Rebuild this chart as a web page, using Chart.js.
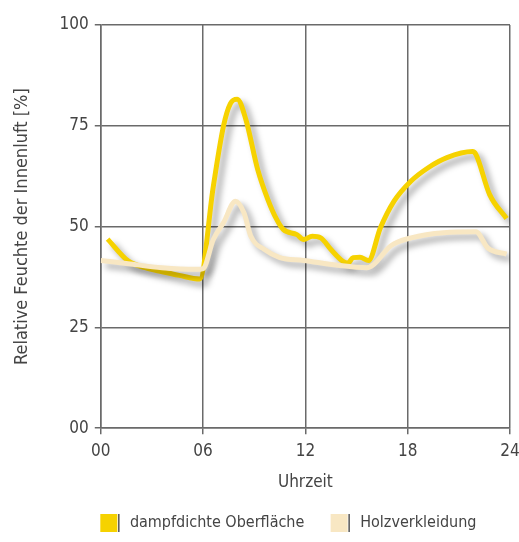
<!DOCTYPE html>
<html>
<head>
<meta charset="utf-8">
<script src="https://cdn.jsdelivr.net/npm/chart.js@4.4.1/dist/chart.umd.min.js"></script>
<style>
  html, body { margin: 0; padding: 0; background: #fff; }
  #wrap { width: 519px; height: 542px; }
</style>
</head>
<body>
<div id="wrap"><canvas id="feuchteChart" width="519" height="542"></canvas></div>
<script>
// Werte (Uhrzeit in Stunden, rel. Feuchte in %)
const zeitDampf = [0.4, 1.6, 2.6, 3.6, 4.6, 5.8, 6.6, 7.2, 7.6, 8.0, 8.5, 9.2, 9.8, 10.3, 10.7, 11.5, 11.9, 12.4, 12.9, 13.5, 14.2, 14.5, 14.8, 15.2, 15.7, 16.4, 17.2, 18.2, 19.2, 20.3, 21.8, 22.0, 22.8, 23.8]
const feuchteDampf = [46.9, 41.5, 39.8, 38.8, 37.9, 37.0, 60.0, 75.0, 80.5, 81.6, 76.7, 64.2, 56.7, 51.9, 49.3, 48.0, 46.8, 47.6, 47.2, 44.3, 41.4, 41.0, 42.3, 42.4, 41.6, 49.7, 56.3, 61.3, 64.6, 67.1, 68.6, 67.9, 58.0, 52.0]

const zeitHolz = [0.0, 1.6, 3.6, 5.6, 6.0, 6.6, 7.2, 7.9, 8.4, 8.8, 9.6, 10.5, 11.9, 13.9, 15.6, 16.0, 17.0, 18.2, 20.1, 22.0, 22.7, 23.8]
const feuchteHolz = [41.6, 40.8, 39.8, 39.4, 39.6, 46.8, 51.0, 56.3, 53.4, 47.6, 44.3, 42.3, 41.6, 40.4, 39.8, 40.6, 45.2, 47.2, 48.5, 48.7, 44.7, 43.2]

const xTicks = [0, 6, 12, 18, 24]
const yTicks = [0, 25, 50, 75, 100]

const serien = ["dampfdichte Oberfläche", "Holzverkleidung"]
const farben = ["#f6d200", "#f8e7c3"]

const schrift = "'Liberation Sans Narrow', 'DejaVu Sans Condensed', 'Roboto', sans-serif"
const grau = "#444"
const gitter = "#6a6a6a"

const legendeVersatz = 32

function punkte(xs, ys){
    return xs.map((x, i) => ({ x: x, y: ys[i] }))
}

// Schatten unter den Linien
const schattenPlugin = {
    id: "schatten",
    beforeDatasetsDraw(chart){
        const ctx = chart.ctx
        ctx.save()
        ctx.shadowColor = "rgba(0,0,0,0.35)"
        ctx.shadowBlur = 6
        ctx.shadowOffsetX = 5
        ctx.shadowOffsetY = 5
    },
    afterDatasetsDraw(chart){
        chart.ctx.restore()
    }
}

// Legende etwas nach rechts schieben + dunkler Strich neben den Kästchen
const legendenStrich = {
    id: "legendenStrich",
    afterUpdate(chart){
        const legend = chart.legend
        if(!legend) return
        legend.left += legendeVersatz
        legend.right += legendeVersatz
    },
    afterDraw(chart){
        const legend = chart.legend
        if(!legend || !legend.legendHitBoxes) return
        const ctx = chart.ctx
        const bw = legend.options.labels.boxWidth
        ctx.save()
        ctx.strokeStyle = "#555"
        ctx.lineWidth = 1.5
        legend.legendHitBoxes.forEach(hb => {
            const bx = hb.left + legendeVersatz + bw + 1.5
            const my = hb.top + hb.height / 2
            ctx.beginPath()
            ctx.moveTo(bx, my - 9)
            ctx.lineTo(bx, my + 9)
            ctx.stroke()
        })
        ctx.restore()
    }
}

new Chart(document.getElementById("feuchteChart").getContext("2d"), {

    type: "line",

    data: {
        datasets: [{
            label: serien[0],
            data: punkte(zeitDampf, feuchteDampf),
            borderColor: farben[0],
            backgroundColor: farben[0],
            borderWidth: 5,
            pointRadius: 0,
            tension: 0.4,
            cubicInterpolationMode: "monotone",
            order: 1
        }, {
            label: serien[1],
            data: punkte(zeitHolz, feuchteHolz),
            borderColor: farben[1],
            backgroundColor: farben[1],
            borderWidth: 5,
            pointRadius: 0,
            tension: 0.4,
            cubicInterpolationMode: "monotone",
            order: 0
        }]
    },

    options: {
        responsive: false,
        animation: false,
        layout: {
            padding: { top: 25, right: 0, left: 12, bottom: 0 }
        },
        plugins: {
            tooltip: { enabled: false },
            legend: {
                position: "bottom",
                labels: {
                    boxWidth: 17,
                    boxHeight: 18,
                    padding: 8,
                    color: grau,
                    font: { family: schrift, size: 16 },
                    sort: (a, b) => a.datasetIndex - b.datasetIndex,
                    generateLabels(chart){
                        const items = Chart.defaults.plugins.legend.labels.generateLabels(chart)
                        items.forEach(it => { it.lineWidth = 0; it.text = " " + it.text + "    " })
                        return items
                    }
                }
            }
        },
        scales: {
            x: {
                type: "linear",
                min: 0,
                max: 24,
                afterBuildTicks: axis => { axis.ticks = xTicks.map(v => ({ value: v })) },
                afterFit: s => { s.paddingRight = 9 },
                ticks: {
                    color: grau,
                    font: { family: schrift, size: 17 },
                    padding: 7,
                    maxRotation: 0,
                    callback: v => String(v).padStart(2, "0")
                },
                grid: { color: gitter, lineWidth: 1.5, tickLength: 6, tickColor: gitter },
                border: { color: gitter, width: 1.5 },
                title: {
                    display: true,
                    text: "Uhrzeit",
                    color: grau,
                    font: { family: schrift, size: 17 },
                    padding: { top: 4, bottom: 13 }
                }
            },
            y: {
                min: 0,
                max: 100,
                afterBuildTicks: axis => { axis.ticks = yTicks.map(v => ({ value: v })) },
                ticks: {
                    color: grau,
                    font: { family: schrift, size: 17 },
                    padding: 6,
                    callback: v => v === 0 ? "00" : String(v)
                },
                grid: { color: gitter, lineWidth: 1.5, tickLength: 6, tickColor: gitter },
                border: { color: gitter, width: 1.5 },
                title: {
                    display: true,
                    text: "Relative Feuchte der Innenluft [%]",
                    color: grau,
                    font: { family: schrift, size: 18 },
                    padding: { top: 0, bottom: 20 }
                }
            }
        }
    },

    plugins: [schattenPlugin, legendenStrich]

})
</script>
</body>
</html>
